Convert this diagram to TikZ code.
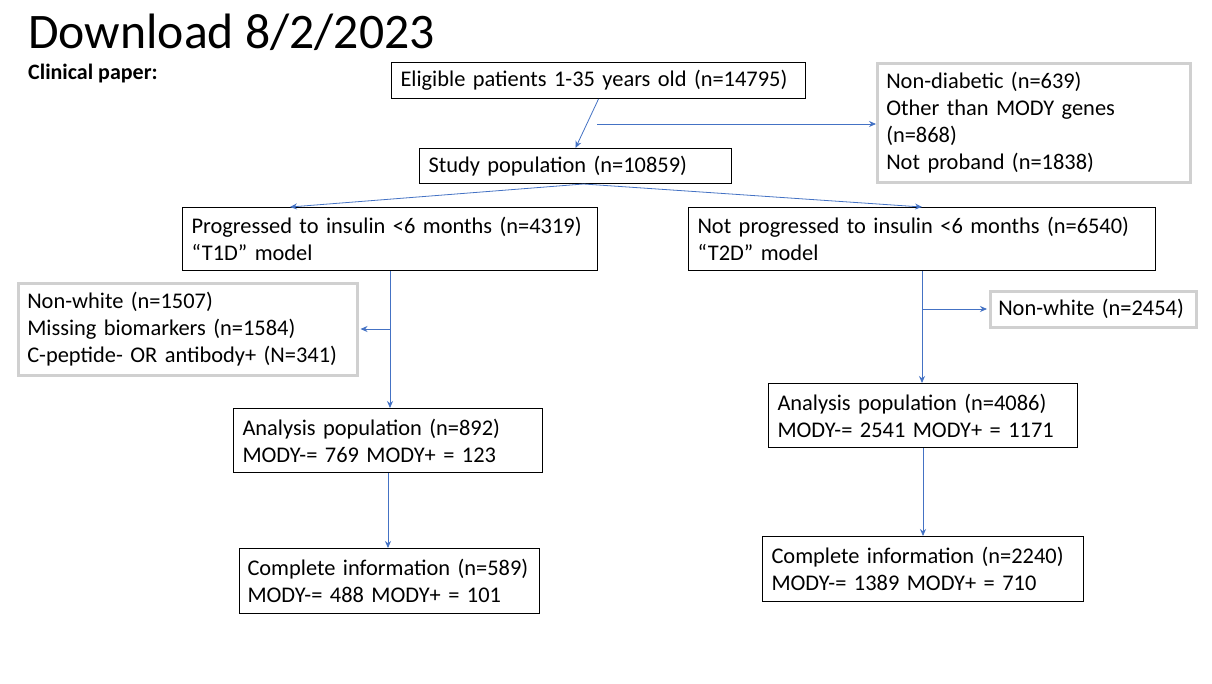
\documentclass[tikz,border=0pt]{standalone}
\usepackage{fontspec}
\setmainfont{Carlito}
\usetikzlibrary{arrows.meta}
\definecolor{arrblue}{HTML}{4472C4}
\definecolor{lgray}{HTML}{D0D0D0}
\begin{document}
\begin{tikzpicture}[x=1pt,y=-1pt,
 box/.style={draw=black, line width=1pt, rectangle, anchor=north west, inner xsep=9pt, inner ysep=0pt, align=left, font=\fontsize{22.4}{27}\selectfont},
 gbox/.style={box, draw=lgray, line width=2.5pt},
 arr/.style={draw=arrblue, line width=0.8pt, -{Stealth[length=7pt,width=6pt]}}]
\useasboundingbox[fill=white] (0,0) rectangle (1212,683);
\node[anchor=base west, inner sep=0pt, font=\fontsize{49.7}{56}\selectfont] (title) at (28,48) {Download 8/2/2023};
\node[anchor=base west, inner sep=0pt, font=\fontsize{22}{24}\selectfont\bfseries] (sub) at (28,79) {Clinical paper:};
\node[box, minimum width=414pt, minimum height=36pt, text width=396pt] (b1) at (391,62) {Eligible patients 1-35 years old (n=14795)};
\node[box, minimum width=312pt, minimum height=35pt, text width=294pt] (b2) at (419,148) {Study population (n=10859)};
\node[gbox, minimum width=313pt, minimum height=119pt, text width=295pt] (rb) at (876,62) {Non-diabetic (n=639)\\Other than MODY genes\\(n=868)\\Not proband (n=1838)};
\node[box, minimum width=415pt, minimum height=63pt, text width=397pt] (t1) at (182,207) {Progressed to insulin <6 months (n=4319)\\“T1D” model};
\node[box, minimum width=467pt, minimum height=63pt, text width=449pt] (t2) at (688,207) {Not progressed to insulin <6 months (n=6540)\\“T2D” model};
\node[gbox, minimum width=339pt, minimum height=92pt, text width=321pt] (lg) at (17,282) {Non-white (n=1507)\\Missing biomarkers (n=1584)\\C-peptide- OR antibody+ (N=341)};
\node[gbox, minimum width=206pt, minimum height=36pt, text width=190pt, inner xsep=8pt] (nw) at (989,290) {Non-white (n=2454)};
\node[box, minimum width=309pt, minimum height=64pt, text width=291pt] (a1) at (233,408) {Analysis population (n=892)\\MODY-= 769 MODY+ = 123};
\node[box, minimum width=309pt, minimum height=64pt, text width=291pt] (ar) at (768,383) {Analysis population (n=4086)\\MODY-= 2541 MODY+ = 1171};
\node[box, minimum width=300pt, minimum height=65pt, text width=284pt, inner xsep=8pt] (c1) at (239,548) {Complete information (n=589)\\MODY-= 488 MODY+ = 101};
\node[box, minimum width=321pt, minimum height=65pt, text width=303pt] (cr) at (762,536) {Complete information (n=2240)\\MODY-= 1389 MODY+ = 710};
% connectors
\draw[arr] (b1.south) -- (b2.north);
\coordinate (j1) at (597,124);
\draw[arr] (j1) -- (j1 -| rb.west);
\draw[arr] ([xshift=8pt]b2.south) -- ([xshift=-100pt]t1.north);
\draw[arr] ([xshift=8pt]b2.south) -- (t2.north);
\draw[arr] (t1.south) -- (t1.south |- a1.north);
\coordinate (j2) at ([yshift=-58pt]t1.south);
\draw[arr] (j2) -- ([xshift=2pt]j2 -| lg.east);
\draw[arr] (t2.south) -- (t2.south |- ar.north);
\coordinate (j3) at ([yshift=-38pt]t2.south);
\draw[arr] (j3) -- ([xshift=-2pt]j3 -| nw.west);
\draw[arr] (a1.south) -- (a1.south |- c1.north);
\draw[arr] (ar.south) -- (ar.south |- cr.north);
\end{tikzpicture}
\end{document}
